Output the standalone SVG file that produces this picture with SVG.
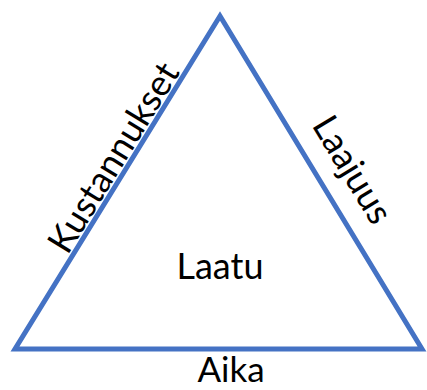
<svg xmlns="http://www.w3.org/2000/svg" width="427" height="390" viewBox="0 0 427 390">
<style>
.lbl{font-family:Lato,"Liberation Sans",sans-serif;font-size:36px;fill:#000;text-anchor:middle}
.edge{fill:none;stroke:#4472C4;stroke-width:5;stroke-linejoin:miter}
</style>
<rect width="427" height="390" fill="#fff"/>
<g id="connectors">
<path id="triangle" class="edge" d="M220,16 L422,349 L15,349 Z"/>
</g>
<g id="kustannukset"><text class="lbl" transform="translate(124,164) rotate(-58.4)">Kustannukset</text></g>
<g id="laajuus"><text class="lbl" transform="translate(342,176) rotate(58.75)">Laajuus</text></g>
<g id="laatu"><text class="lbl" x="220" y="279">Laatu</text></g>
<g id="aika"><text class="lbl" x="231" y="382" style="font-size:35px">Aika</text></g>
</svg>
